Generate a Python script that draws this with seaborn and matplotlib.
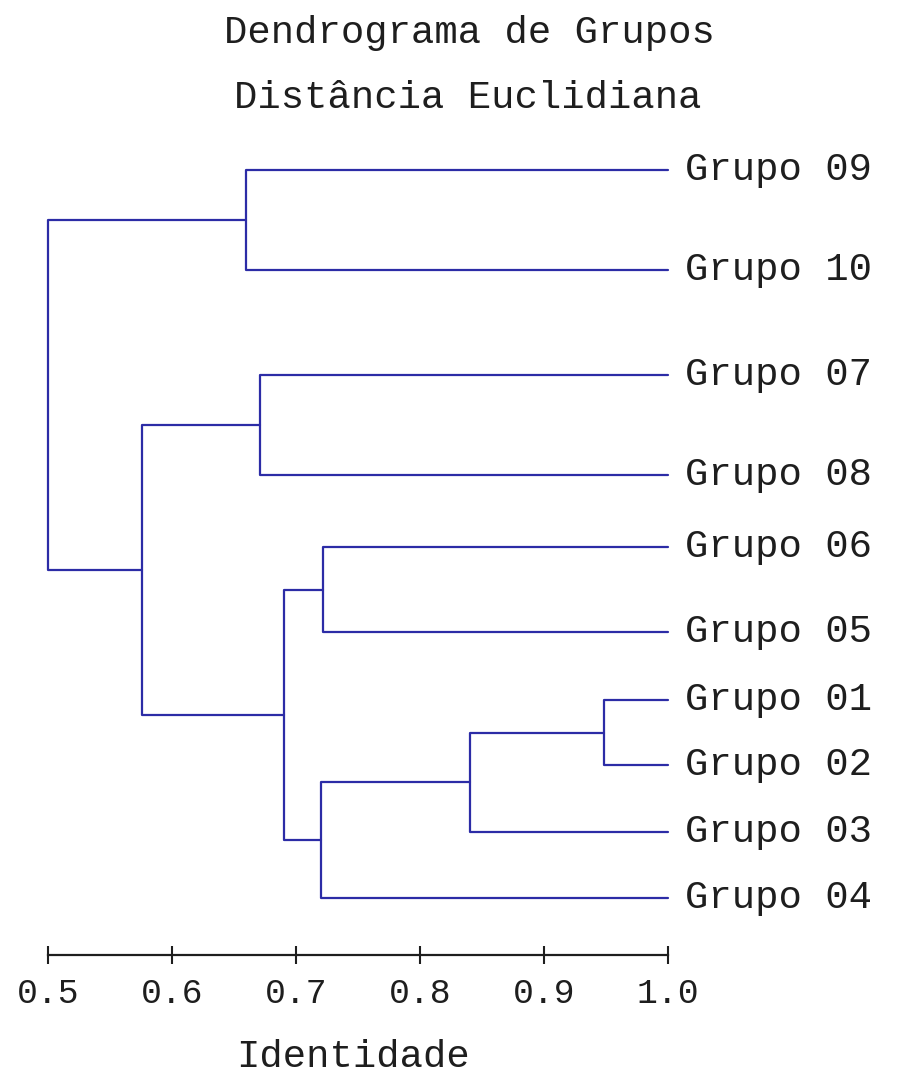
import matplotlib
matplotlib.use("Agg")
import matplotlib.pyplot as plt
import seaborn as sns
import pandas as pd

# ---------------- data ----------------
leaf_names = ["Grupo 09", "Grupo 10", "Grupo 07", "Grupo 08", "Grupo 06",
              "Grupo 05", "Grupo 01", "Grupo 02", "Grupo 03", "Grupo 04"]
# vertical positions of the leaves (rows, top to bottom)
leaf_rows = [0.0, 1.0, 2.05, 3.05, 3.77, 4.62, 5.30, 5.95, 6.62, 7.28]
leaf_identity = 1.0

# merges: (name, left child, right child, identity level)
merge_names = ["A", "B", "C", "D", "E", "F", "G", "H", "R"]
merge_left = ["Grupo 01", "A", "B", "Grupo 06", "D", "Grupo 07", "F", "Grupo 09", "H"]
merge_right = ["Grupo 02", "Grupo 03", "Grupo 04", "Grupo 05", "C", "Grupo 08", "E", "Grupo 10", "G"]
merge_level = [0.948, 0.84, 0.72, 0.722, 0.69, 0.671, 0.576, 0.66, 0.50]

tick_values = [0.5, 0.6, 0.7, 0.8, 0.9, 1.0]
tick_labels = ["0.5", "0.6", "0.7", "0.8", "0.9", "1.0"]
title_lines = ["Dendrograma de Grupos", "Distância Euclidiana"]
x_label = "Identidade"

# ---------------- build segments ----------------
node_x = {n: leaf_identity for n in leaf_names}
node_y = dict(zip(leaf_names, leaf_rows))
rows = []
for name, l, r, h in zip(merge_names, merge_left, merge_right, merge_level):
    pts = [(node_x[l], node_y[l]), (h, node_y[l]), (h, node_y[r]), (node_x[r], node_y[r])]
    for i, (x, y) in enumerate(pts):
        rows.append({"seg": name, "order": i, "identity": x, "row": y})
    node_x[name] = h
    node_y[name] = (node_y[l] + node_y[r]) / 2.0
seg_df = pd.DataFrame(rows)

# ---------------- figure ----------------
sns.set_theme(style="white")
plt.rcParams["font.family"] = ["Liberation Mono", "DejaVu Sans Mono"]

W, H = 898, 1075
fig = plt.figure(figsize=(W / 100, H / 100), dpi=100)
fig.patch.set_facecolor("white")
# x: 0.5 -> px 48, 1.0 -> px 668 ; y: rows (100 px per unit, row 0 at px 170)
ax = fig.add_axes([48 / W, 0, 620 / W, 1])
ax.set_facecolor("white")
ax.set_xlim(0.5, 1.0)
ax.set_ylim((H - 170) / 100, -170 / 100)

line_color = "#2c2ca6"
sns.lineplot(data=seg_df, x="identity", y="row", units="seg", estimator=None,
             sort=False, color=line_color, linewidth=1.6, ax=ax, legend=False)
for ln in ax.lines:
    ln.set_clip_on(False)

txt_color = "#1e1e1e"
fs = 28
for name, y in zip(leaf_names, leaf_rows):
    ax.text(1.0895, y, name, fontsize=fs, va="center", ha="center",
            color=txt_color, clip_on=False)

for s in ["top", "right", "left"]:
    ax.spines[s].set_visible(False)
ax.spines["bottom"].set_position(("data", 7.85))
ax.spines["bottom"].set_color(txt_color)
ax.spines["bottom"].set_linewidth(1.6)
ax.set_yticks([])
ax.set_xticks(tick_values)
ax.set_xticklabels(tick_labels)
ax.tick_params(axis="x", direction="inout", length=13, width=1.5, color=txt_color,
               labelsize=25, labelcolor=txt_color, pad=9, bottom=True)
ax.set_xlabel("")
ax.set_ylabel("")

fig.text(469 / W, 1 - 33 / H, title_lines[0], ha="center", va="center",
         fontsize=fs, color=txt_color)
fig.text(468 / W, 1 - 98 / H, title_lines[1], ha="center", va="center",
         fontsize=fs, color=txt_color)
fig.text(353 / W, 1 - 1057 / H, x_label, ha="center", va="center",
         fontsize=fs, color=txt_color)

fig.savefig("out.png", dpi=100, facecolor="white")
